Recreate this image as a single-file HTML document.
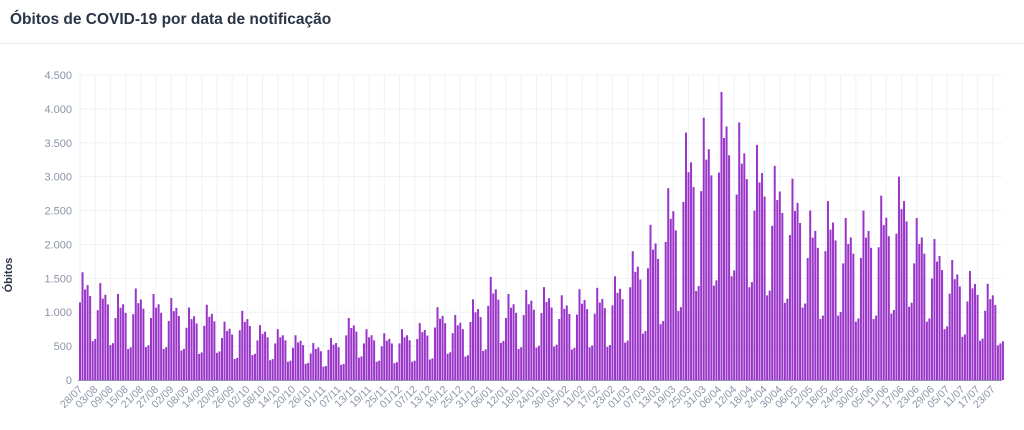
<!DOCTYPE html>
<html><head><meta charset="utf-8"><style>
body{margin:0;background:#fff;width:1024px;height:425px;overflow:hidden;font-family:"Liberation Sans",sans-serif}
</style></head><body>
<svg id="s" width="1024" height="425" xmlns="http://www.w3.org/2000/svg">
<text x="10" y="24" font-family="Liberation Sans, sans-serif" font-size="15.5" font-weight="bold" fill="#2b3445">Óbitos de COVID-19 por data de notificação</text>
<line x1="0" y1="43.5" x2="1024" y2="43.5" stroke="#eef1f5" stroke-width="1.5"/>
<text transform="translate(12,275) rotate(-90)" text-anchor="middle" font-size="11" font-weight="bold" fill="#2b3445">Óbitos</text>
<g id="g"></g>
</svg>
<script>
var g=document.getElementById('g'),h='';
var y0=380,k=305/4500,x0=79,dx=2.5355;
for(var v=0;v<=4500;v+=500){var y=y0-v*k;
h+='<line x1="78" x2="1002" y1="'+y+'" y2="'+y+'" stroke="#eef1f6"/>';
h+='<text x="72" y="'+(y+4)+'" text-anchor="end" font-size="11" fill="#8a94a8">'+(v>=1000?Math.floor(v/1000)+'.'+('00'+v%1000).slice(-3):v)+'</text>';}
var peaks=[1590,1430,1270,1350,1270,1210,1070,1110,860,1020,810,750,660,545,620,915,750,690,750,840,1075,960,1190,1520,1270,1330,1370,1250,1340,1360,1530,1900,2290,2830,3650,3870,4250,3800,3470,3160,2970,2500,2640,2390,2500,2720,3000,2390,2080,1770,1610,1420,1400];
var pat=[0.72,1,0.84,0.88,0.78,0.36,0.38];
var d0=new Date(2020,6,28),bars='';
for(var i=0;i<365;i++){var w=Math.floor(i/7),p=peaks[w];
var val=p*pat[i%7];if(i==364)val=570;
var x=x0+i*dx,bh=val*k;
if(i%6==0){h+='<line x1="'+(x+1)+'" x2="'+(x+1)+'" y1="75" y2="380" stroke="#eef1f6"/>';
var d=new Date(d0.getTime()+i*864e5+36e5);var s=('0'+d.getDate()).slice(-2)+'/'+('0'+(d.getMonth()+1)).slice(-2);
h+='<text transform="translate('+(x+4)+',390) rotate(-45)" text-anchor="end" font-size="10.5" fill="#8a94a8">'+s+'</text>';}
bars+='<rect x="'+x+'" y="'+(y0-bh)+'" width="2" height="'+bh+'" fill="#9a35c9"/>';
}
h+=bars+'<line x1="78" x2="1002" y1="380.5" y2="380.5" stroke="#8a94a8"/>';
g.innerHTML=h;
</script>
</body></html>
